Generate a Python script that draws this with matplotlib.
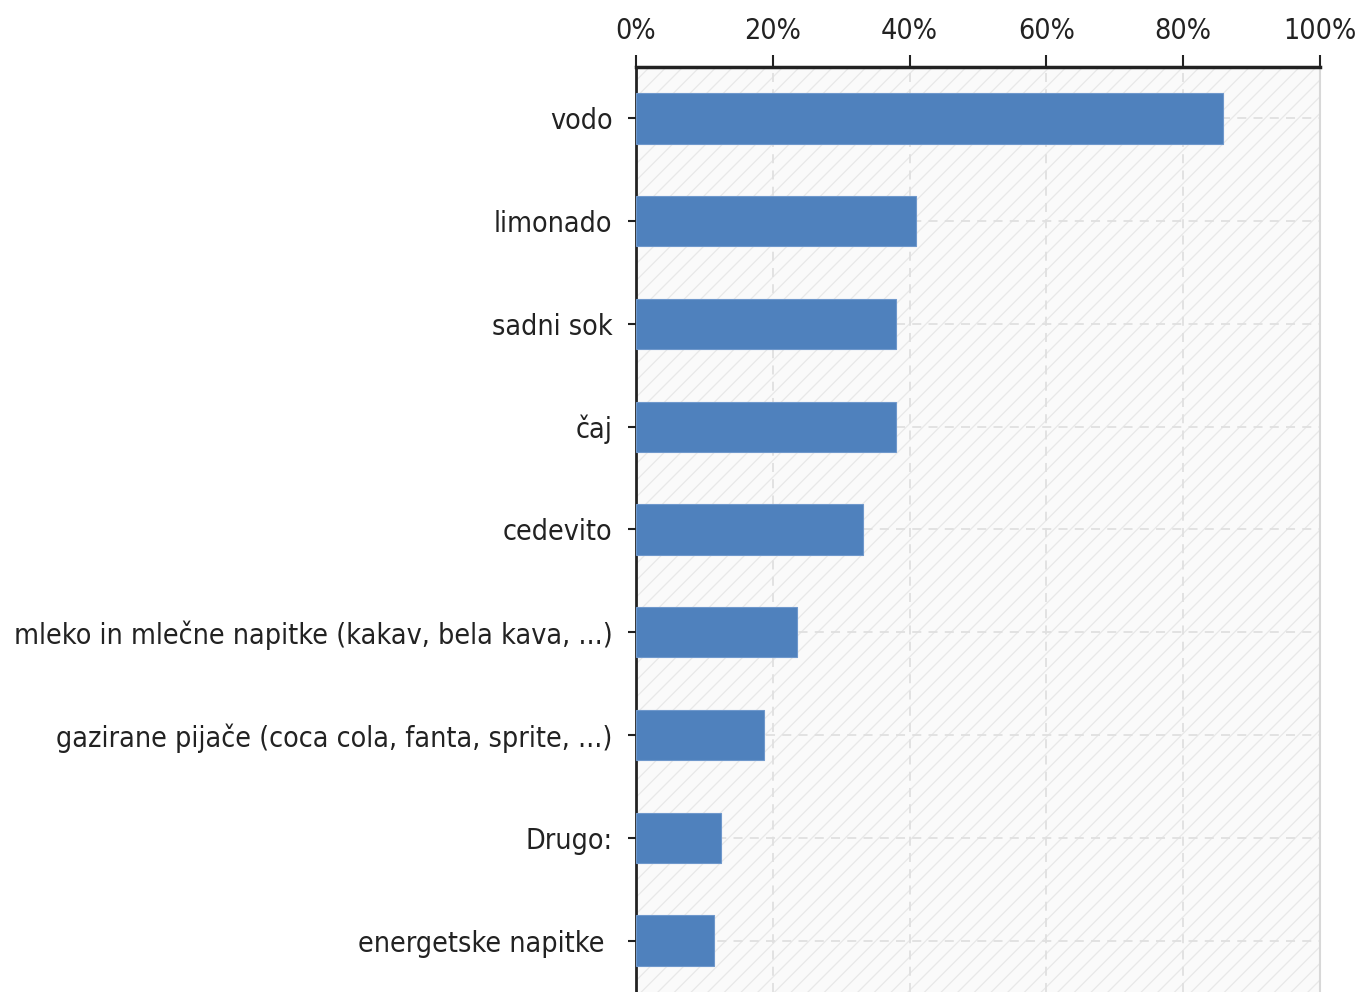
import matplotlib
matplotlib.use("Agg")
import matplotlib.pyplot as plt
from matplotlib.patches import Rectangle
from matplotlib.ticker import FuncFormatter

categories = [
    "vodo",
    "limonado",
    "sadni sok",
    "čaj",
    "cedevito",
    "mleko in mlečne napitke (kakav, bela kava, ...)",
    "gazirane pijače (coca cola, fanta, sprite, ...)",
    "Drugo:",
    "energetske napitke ",
]
percentages = [85.8, 41.0, 38.0, 38.0, 33.2, 23.5, 18.7, 12.4, 11.4]
xticks = [0, 20, 40, 60, 80, 100]

plt.rcParams["font.family"] = ["DejaVu Sans"]
plt.rcParams["font.stretch"] = "condensed"
plt.rcParams["hatch.color"] = "#e8e8e8"
plt.rcParams["hatch.linewidth"] = 0.9

fig = plt.figure(figsize=(13.59, 9.92), dpi=100)
ax = fig.add_axes([0.468, 0.0, 0.9713 - 0.468, 0.9325])

ax.set_facecolor("#fafafa")
bg = Rectangle((0, 0), 1, 1, transform=ax.transAxes, facecolor="none",
               edgecolor="#e8e8e8", hatch="//", linewidth=0, zorder=0)
ax.add_patch(bg)

y = list(range(len(categories)))
ax.barh(y, percentages, height=0.49, color="#4f81bd", edgecolor="#6f98cc",
        linewidth=0.8, zorder=3)

ax.set_xlim(0, 100)
ax.set_ylim(len(categories) - 0.5, -0.5)
ax.set_xticks(xticks)
ax.xaxis.set_major_formatter(FuncFormatter(lambda v, p: f"{v:.0f}%"))
ax.xaxis.tick_top()
ax.set_yticks(y)
ax.set_yticklabels(categories)

ax.grid(True, color="#e0e0e0", linestyle=(0, (5, 4)), linewidth=1.3, zorder=1)
ax.set_axisbelow(True)

ax.tick_params(axis="x", direction="out", length=9, width=1.5, pad=7,
               labelsize=20.5, colors="#222222")
ax.tick_params(axis="y", direction="out", length=6, width=1.5, pad=11,
               labelsize=20.5, colors="#222222")

ax.spines["top"].set_linewidth(2.5)
ax.spines["top"].set_color("#222222")
ax.spines["left"].set_linewidth(2)
ax.spines["left"].set_color("#222222")
ax.spines["right"].set_color("#d8d8d8")
ax.spines["right"].set_linewidth(1.5)
ax.spines["bottom"].set_visible(False)

fig.savefig("out.png", dpi=100)
